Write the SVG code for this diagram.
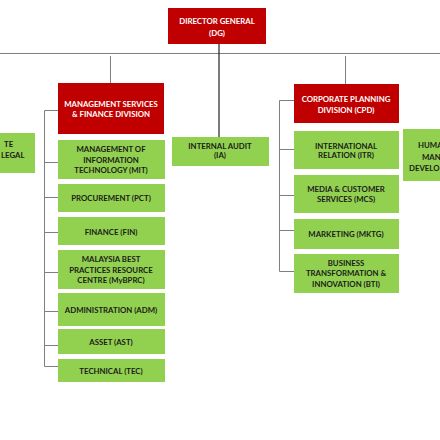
<svg xmlns="http://www.w3.org/2000/svg" width="440" height="440" viewBox="0 0 440 440">
<style>
.red{fill:#c00000}
.grn{fill:#92d050}
.wt{fill:#ffffff;font-family:Lato,"Liberation Sans",sans-serif;font-weight:bold;font-size:7.8px;text-anchor:middle}
.dk{fill:#1b1b1b;font-family:Lato,"Liberation Sans",sans-serif;font-weight:bold;font-size:7.8px;text-anchor:middle}
.ln{stroke:#7f7f7f;stroke-width:1;fill:none}
.lb{stroke:#222222;stroke-width:1.2;fill:none}
</style>
<rect width="440" height="440" fill="#ffffff"/>
<g id="connectors">
<line class="ln" x1="0" y1="53.5" x2="440" y2="53.5"/>
<line class="lb" x1="219" y1="44" x2="219" y2="137"/>
<line class="ln" x1="110.5" y1="56" x2="110.5" y2="83"/>
<line class="ln" x1="345.5" y1="56" x2="345.5" y2="84"/>
<path class="ln" d="M58 110.5H44.5V366.5H58M44.5 162.5H58M44.5 197.5H58M44.5 232.5H58M44.5 272.5H58M44.5 311.5H58M44.5 345.5H58"/>
<path class="ln" d="M294 100.5H279.5V271.5H294M279.5 149.5H294M279.5 195.5H294M279.5 230.5H294"/>
</g>
<g id="dg"><rect class="red" x="168" y="8" width="98" height="36"/>
<text class="wt" x="217" y="24">DIRECTOR GENERAL</text><text class="wt" x="217" y="36">(DG)</text></g>
<g id="msfd"><rect class="red" x="58" y="83" width="106" height="51"/>
<text class="wt" x="111" y="107">MANAGEMENT SERVICES</text><text class="wt" x="111" y="117">&amp; FINANCE DIVISION</text></g>
<g id="legal"><rect class="grn" x="-10" y="133" width="45" height="40"/>
<text class="dk" x="4" y="146.5" style="text-anchor:start">TE</text><text class="dk" x="1" y="157.5" style="text-anchor:start">LEGAL</text></g>
<g id="mit"><rect class="grn" x="58" y="140" width="107" height="39"/>
<text class="dk" x="111" y="152">MANAGEMENT OF</text><text class="dk" x="111" y="163">INFORMATION</text><text class="dk" x="111" y="173">TECHNOLOGY (MIT)</text></g>
<g id="pct"><rect class="grn" x="58" y="184" width="107" height="28"/>
<text class="dk" x="111" y="201">PROCUREMENT (PCT)</text></g>
<g id="fin"><rect class="grn" x="58" y="217" width="107" height="28"/>
<text class="dk" x="111" y="235">FINANCE (FIN)</text></g>
<g id="mybprc"><rect class="grn" x="58" y="250" width="107" height="39"/>
<text class="dk" x="111" y="262">MALAYSIA BEST</text><text class="dk" x="111" y="273">PRACTICES RESOURCE</text><text class="dk" x="111" y="283">CENTRE (MyBPRC)</text></g>
<g id="adm"><rect class="grn" x="58" y="293" width="107" height="33"/>
<text class="dk" x="111" y="313">ADMINISTRATION (ADM)</text></g>
<g id="ast"><rect class="grn" x="58" y="329" width="107" height="25"/>
<text class="dk" x="111" y="345">ASSET (AST)</text></g>
<g id="tec"><rect class="grn" x="58" y="359" width="107" height="23"/>
<text class="dk" x="111" y="374">TECHNICAL (TEC)</text></g>
<g id="ia"><rect class="grn" x="172" y="137" width="97" height="29"/>
<text class="dk" x="220" y="149">INTERNAL AUDIT</text><text class="dk" x="220" y="158">(IA)</text></g>
<g id="cpd"><rect class="red" x="294" y="84" width="105" height="39"/>
<text class="wt" x="346" y="102">CORPORATE PLANNING</text><text class="wt" x="346" y="113">DIVISION (CPD)</text></g>
<g id="itr"><rect class="grn" x="294" y="131" width="105" height="38"/>
<text class="dk" x="346" y="149">INTERNATIONAL</text><text class="dk" x="346" y="158">RELATION (ITR)</text></g>
<g id="mcs"><rect class="grn" x="294" y="175" width="105" height="38"/>
<text class="dk" x="346" y="192">MEDIA &amp; CUSTOMER</text><text class="dk" x="346" y="202">SERVICES (MCS)</text></g>
<g id="mktg"><rect class="grn" x="294" y="219" width="105" height="30"/>
<text class="dk" x="346" y="237">MARKETING (MKTG)</text></g>
<g id="bti"><rect class="grn" x="294" y="254" width="105" height="39"/>
<text class="dk" x="346" y="266">BUSINESS</text><text class="dk" x="346" y="276">TRANSFORMATION &amp;</text><text class="dk" x="346" y="287">INNOVATION (BTI)</text></g>
<g id="hrmd"><rect class="grn" x="403" y="129" width="45" height="52"/>
<text class="dk" x="418" y="148" style="text-anchor:start">HUMA</text><text class="dk" x="422" y="160" style="text-anchor:start">MAN</text><text class="dk" x="409" y="171" style="text-anchor:start">DEVELO</text></g>
</svg>
